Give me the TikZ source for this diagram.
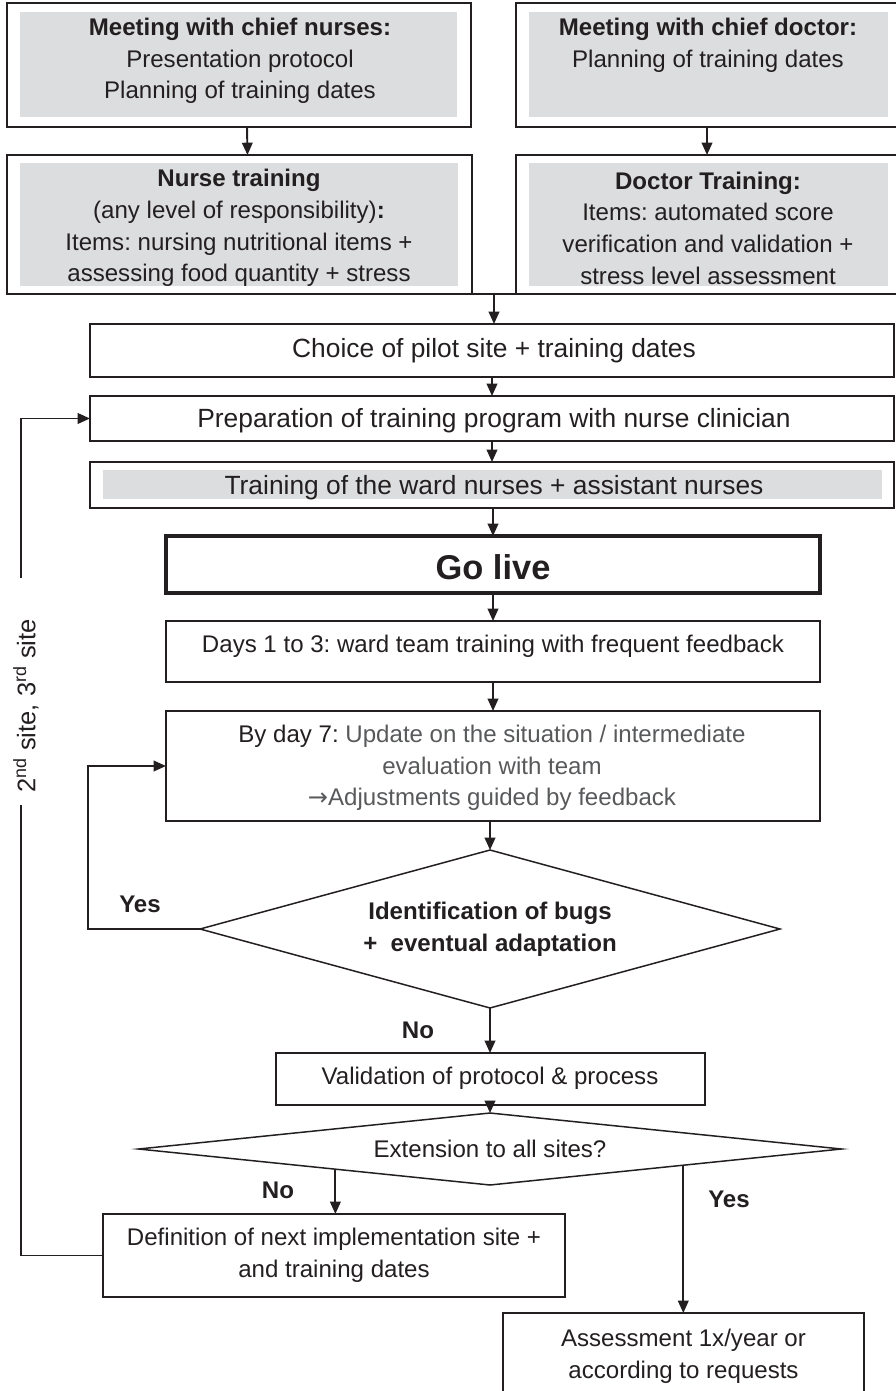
\documentclass[tikz,border=0pt]{standalone}
\usepackage{fontspec}
\setmainfont{Liberation Sans}
\newfontfamily\arrowfont{DejaVu Sans}
\usetikzlibrary{arrows.meta,fit,shapes.geometric,calc}

\definecolor{ink}{HTML}{231F20}
\definecolor{shade}{HTML}{DCDDDE}
\definecolor{soft}{HTML}{58595B}

\tikzset{
  frame/.style={draw=ink, line width=1.1pt, inner sep=0pt, outer sep=0pt},
  shadebox/.style={fill=shade, inner sep=0pt, outer sep=0pt},
  txt/.style={text=ink, align=center, inner sep=0pt, font=\fontsize{13.7}{18}\selectfont},
  bigtxt/.style={txt, font=\fontsize{15}{18}\selectfont},
  yesno/.style={text=ink, inner sep=0pt, font=\bfseries\fontsize{13.7}{18}\selectfont},
  decide/.style={diamond, draw=ink, line width=0.85pt, inner sep=0pt, outer sep=0pt,
                 text=ink, align=center},
  arr/.style={draw=ink, line width=1.1pt, -{Triangle[length=7pt,width=6pt]}},
  link/.style={draw=ink, line width=1.1pt}
}

\begin{document}
\frenchspacing
\begin{tikzpicture}[x=0.02cm, y=-0.02cm]
  \useasboundingbox (0,0) rectangle (895,1391);

  % meetings and trainings
  \node[shadebox, fit={(20,12) (457,117)}]  (mnurse-bg) {};
  \node[frame, fit={(7,3) (471,127)}]       (mnurse) {};
  \node[txt] (mnurse-t) at (240,61) {\textbf{Meeting with chief nurses:}\\Presentation protocol\\Planning of training dates};

  \node[shadebox, fit={(529,12) (888,117)}] (mdoc-bg) {};
  \node[frame, fit={(516,3) (898,127)}]     (mdoc) {};
  \node[txt] (mdoc-t) at (708,45) {\textbf{Meeting with chief doctor:}\\Planning of training dates};

  \node[shadebox, fit={(20,163) (458,286)}]  (tnurse-bg) {};
  \node[frame, fit={(7,155) (472,294)}]      (tnurse) {};
  \node[txt] (tnurse-t) at (239,228) {\textbf{Nurse training}\\(any level of responsibility)\textbf{:}\\Items: nursing nutritional items +\\assessing food quantity + stress};

  \node[shadebox, fit={(529,163) (888,286)}] (tdoc-bg) {};
  \node[frame, fit={(516,155) (898,294)}]    (tdoc) {};
  \node[txt] (tdoc-t) at (708,228) {\textbf{Doctor Training:}\\Items: automated score\\verification and validation +\\stress level assessment};

  % pilot site
  \node[frame, fit={(90,324) (894,377)}] (choice) {};
  \node[bigtxt] (choice-t) at (494,351) {Choice of pilot site + training dates};

  \node[frame, fit={(90,396) (894,441)}] (prep) {};
  \node[bigtxt] (prep-t) at (494,421) {Preparation of training program with nurse clinician};

  \node[shadebox, fit={(103,470) (882,499)}] (train-bg) {};
  \node[frame, fit={(90,462) (894,508)}]     (train) {};
  \node[bigtxt] (train-t) at (494,488) {Training of the ward nurses + assistant nurses};

  \node[frame, line width=2.3pt, fit={(166,536) (820,593)}] (golive) {};
  \node[txt, font=\bfseries\fontsize{19.6}{24}\selectfont] (golive-t) at (493,567) {Go live};

  \node[frame, fit={(166,621) (820,682)}] (days) {};
  \node[txt] (days-t) at (493,646) {Days 1 to 3: ward team training with frequent feedback};

  \node[frame, fit={(166,711) (820,821)}] (day7) {};
  \node[txt] (day7-t) at (492,768) {By day 7: {\color{soft}Update on the situation / intermediate}\\{\color{soft}evaluation with team}\\{\color{soft}{\arrowfont →}Adjustments guided by feedback}};

  % decisions
  \node[decide, minimum width=11.6cm, minimum height=3.16cm, aspect=3.67,
        font=\bfseries\fontsize{13.7}{18}\selectfont] (bugs) at (490,929) {Identification of bugs\\+~ eventual adaptation};

  \node[frame, fit={(276,1053) (705,1105)}] (valid) {};
  \node[txt] (valid-t) at (490,1078) {Validation of protocol \& process};

  \node[decide, minimum width=14.06cm, minimum height=1.44cm, aspect=9.76,
        font=\fontsize{13.7}{18}\selectfont] (ext) at (490,1149) {Extension to all sites?};

  \node[frame, fit={(103,1214) (565,1297)}] (def) {};
  \node[txt] (def-t) at (334,1255) {Definition of next implementation site +\\and training dates};

  \node[frame, fit={(503,1313) (864,1400)}] (assess) {};
  \node[txt] (assess-t) at (683.5,1356) {Assessment 1x/year or\\according to requests};

  % labels
  \node[yesno] (yes1) at (140,904)  {Yes};
  \node[yesno] (no1)  at (418,1030) {No};
  \node[yesno] (no2)  at (278,1190) {No};
  \node[yesno] (yes2) at (729,1199) {Yes};
  \node[txt, rotate=90, font=\fontsize{14.5}{18}\selectfont] (sitelbl) at (26,706)
        {2\textsuperscript{nd} site, 3\textsuperscript{rd} site};

  % connectors
  \draw[arr] ([xshift=0.16cm]mnurse.south) -- ([xshift=0.16cm]tnurse.north);
  \draw[arr] (mdoc.south) -- (tdoc.north);
  \draw[link] (tnurse.south east) -- (tdoc.south west);
  \coordinate (merge) at ($(tnurse.south east)!0.5!(tdoc.south west)$);
  \draw[arr] (merge) -- (merge |- choice.north);
  \draw[arr] (choice.south) -- (choice.south |- prep.north);
  \draw[arr] (prep.south) -- (prep.south |- train.north);
  \draw[arr] (golive.north |- train.south) -- (golive.north);
  \draw[arr] (golive.south) -- (golive.south |- days.north);
  \draw[arr] (days.south) -- (days.south |- day7.north);
  \draw[arr] (bugs.north |- day7.south) -- (bugs.north);
  \draw[arr] (bugs.south) -- (bugs.south |- valid.north);
  \draw[arr] (ext.north |- valid.south) -- (ext.north);

  \draw[arr] (bugs.west) -- ++(-112,0) |- (day7.west);

  \coordinate (extno)  at ($(ext.west)!0.56!(ext.south)$);
  \coordinate (extyes) at ($(ext.east)!0.45!(ext.south)$);
  \draw[arr] (extno) -- (extno |- def.north);
  \draw[arr] (extyes) -- (extyes |- assess.north);

  \coordinate (loopdown) at (21,805);
  \coordinate (loopup)   at (21,578);
  \draw[link] (def.west) -| (loopdown);
  \draw[arr] (loopup) |- (prep.west);
\end{tikzpicture}
\end{document}
